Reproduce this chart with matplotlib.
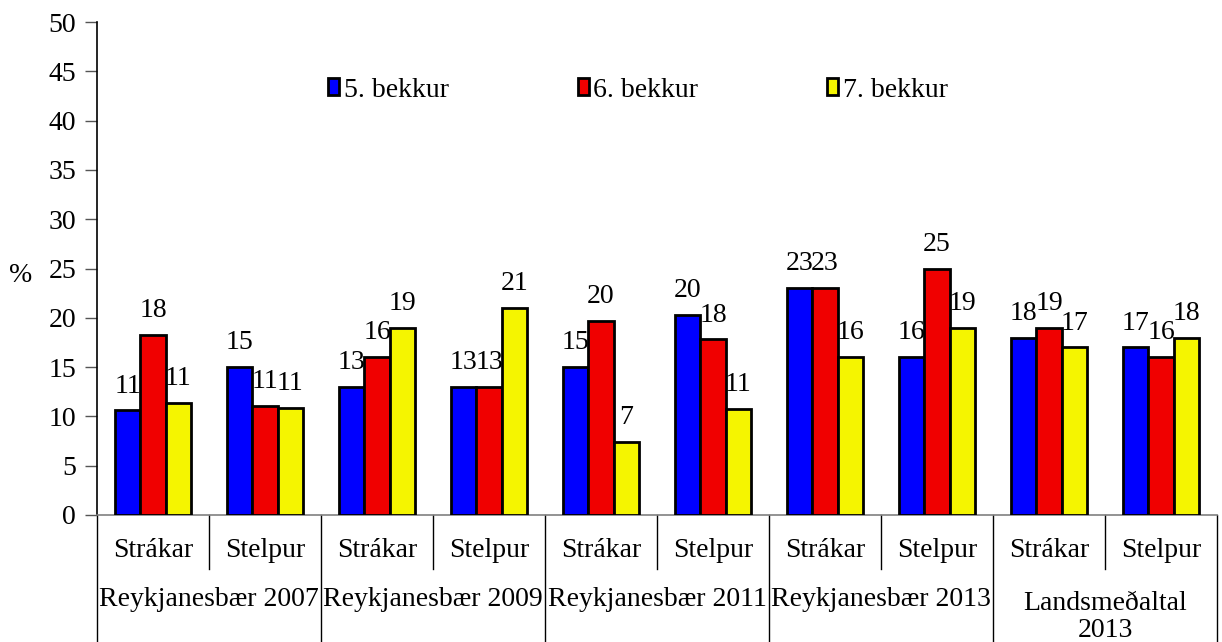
import matplotlib
matplotlib.use("Agg")
import matplotlib.pyplot as plt
import matplotlib.transforms as mtransforms
from matplotlib.patches import Patch
import numpy as np

plt.rcParams['font.family'] = ['Liberation Serif', 'DejaVu Serif']

categories = ["Strákar", "Stelpur"] * 5
groups = ["Reykjanesbær 2007", "Reykjanesbær 2009", "Reykjanesbær 2011",
          "Reykjanesbær 2013", "Landsmeðaltal\n2013"]
series_names = ["5. bekkur", "6. bekkur", "7. bekkur"]
bekkur5 = [10.6, 15.0, 13.0, 13.0, 15.0, 20.3, 23.0, 16.0, 18.0, 17.0]
bekkur6 = [18.3, 11.1, 16.0, 13.0, 19.7, 17.8, 23.0, 25.0, 19.0, 16.0]
bekkur7 = [11.4, 10.9, 19.0, 21.0, 7.4, 10.8, 16.0, 19.0, 17.0, 18.0]
colors = ["#0000FF", "#F00000", "#F5F500"]
yticks = list(range(0, 51, 5))

FS = 20
W, H = 1222, 642
fig = plt.figure(figsize=(W / 100, H / 100), dpi=100)
ax = fig.add_axes([97 / W, (H - 515) / H, 1120 / W, 493 / H])

x = np.arange(len(categories))
bw = 0.226
series = [bekkur5, bekkur6, bekkur7]
handles = []
for k, (vals, col, name) in enumerate(zip(series, colors, series_names)):
    pos = x + (k - 1) * bw
    bars = ax.bar(pos, vals, width=bw, color=col, edgecolor="black",
                  linewidth=2.0, zorder=3)
    for b, v in zip(bars, vals):
        ax.annotate(f"{round(v):d}", (b.get_x() + b.get_width() / 2, v),
                    xytext=(0, 8.5), textcoords="offset points",
                    ha="center", va="bottom", fontsize=FS, zorder=4)
    handles.append(Patch(facecolor=col, edgecolor="black", linewidth=2.0, label=name))

ax.set_xlim(-0.5, len(categories) - 0.5)
ax.set_ylim(0, 50)
ax.set_yticks(yticks)
ax.tick_params(axis="y", labelsize=FS, length=9, width=1, color="#555555", pad=6)
ax.set_xticks([])
for s in ["top", "right"]:
    ax.spines[s].set_visible(False)
ax.spines["left"].set_color("black")
ax.spines["left"].set_linewidth(1.2)
ax.spines["bottom"].set_color("#808080")
ax.spines["bottom"].set_linewidth(1.2)
ax.spines["left"].set_bounds(0, 50)

fig.text(21 / W, (H - 275) / H, "%", fontsize=FS, ha="center", va="center")

trans = mtransforms.blended_transform_factory(ax.transData, ax.transAxes)
# category labels
for i, c in enumerate(categories):
    ax.text(i, -0.071, c, transform=trans, ha="center", va="center", fontsize=FS)
# group labels
for g, name in enumerate(groups):
    ax.text(2 * g + 0.5, -0.172 if "\n" not in name else -0.207, name, transform=trans,
            ha="center", va="center", fontsize=FS, linespacing=1.15)
# separators
for i in range(len(categories) + 1):
    xs = i - 0.5
    if i % 2 == 0:
        ax.plot([xs, xs], [0, -0.26], transform=trans, color="black",
                linewidth=1.0, clip_on=False)
    else:
        ax.plot([xs, xs], [0, -0.11], transform=trans, color="black",
                linewidth=1.0, clip_on=False)

leg = ax.legend(handles=handles, ncol=3, loc="center", bbox_to_anchor=(0.483, 0.862),
                frameon=False, fontsize=FS, handlelength=0.4, handleheight=0.55,
                handletextpad=0.15, columnspacing=4.65, borderpad=0)

fig.savefig("out.png", dpi=100)
